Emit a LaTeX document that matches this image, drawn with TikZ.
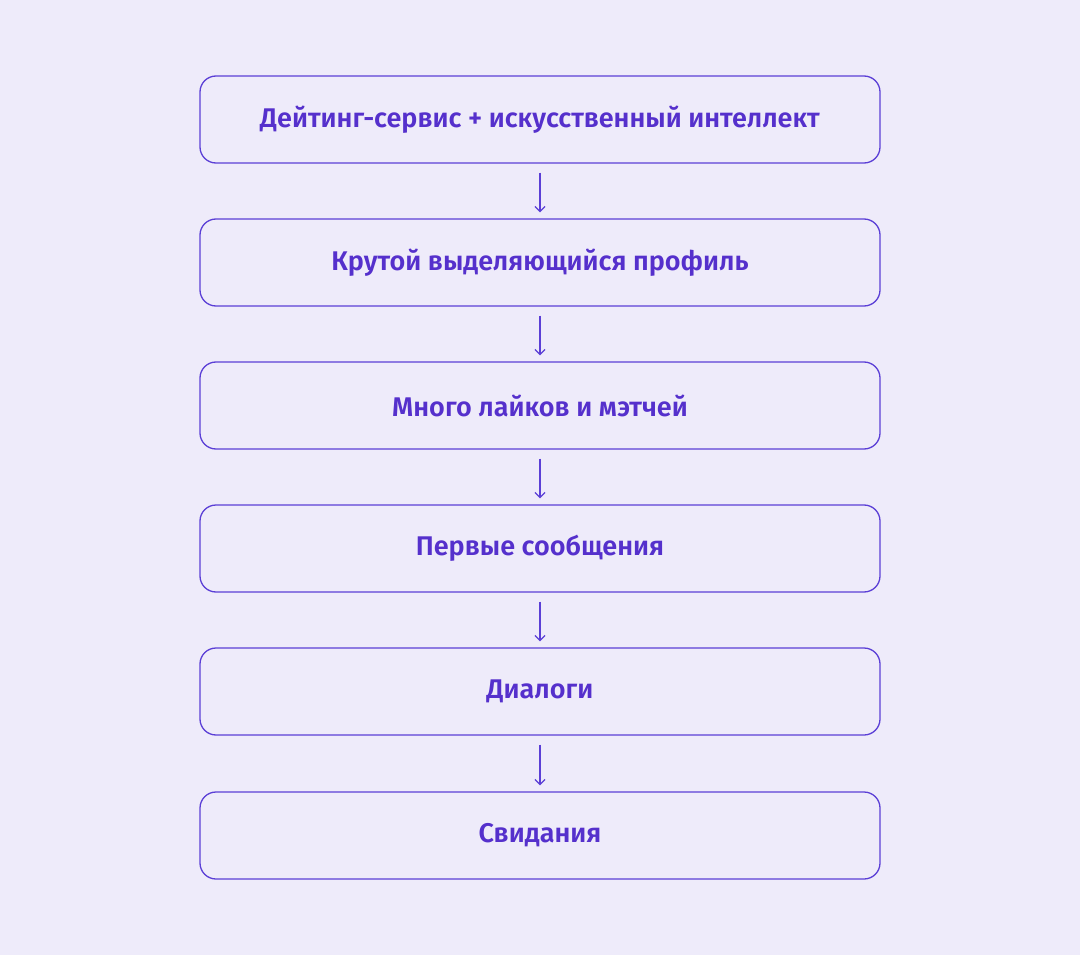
\documentclass[tikz,border=0pt]{standalone}
\usepackage{fontspec}
\setmainfont{Fira Sans}[UprightFont={* SemiBold}]
\usetikzlibrary{arrows.meta}
\definecolor{bg}{HTML}{EEEBFA}
\definecolor{pur}{HTML}{5B3FD6}
\definecolor{txt}{HTML}{5530CC}
\begin{document}
\begin{tikzpicture}[x=1pt,y=-1pt,
  box/.style={draw=pur,line width=1.3pt,rounded corners=16pt,minimum width=680pt,minimum height=87pt,text=txt,font=\fontsize{27}{32}\selectfont,inner sep=0pt},
  arr/.style={draw=pur,line width=1.3pt,-{Straight Barb[length=5pt,width=10pt]}}]
\fill[bg] (0,0) rectangle (1080,955);
\useasboundingbox (0,0) rectangle (1080,955);
\node[box] (a) at (540,119.5) {Дейтинг-сервис + искусственный интеллект};
\node[box] (b) at (540,262.5) {Крутой выделяющийся профиль};
\node[box] (c) at (540,405.5) {Много лайков и мэтчей};
\node[box] (d) at (540,548.5) {Первые сообщения};
\node[box] (e) at (540,691.5) {Диалоги};
\node[box] (f) at (540,835.5) {Свидания};
\foreach \u/\v in {a/b,b/c,c/d,d/e,e/f}
  \draw[arr] ([yshift=-9pt]\u.south) -- ([yshift=6pt]\v.north);
\end{tikzpicture}
\end{document}
